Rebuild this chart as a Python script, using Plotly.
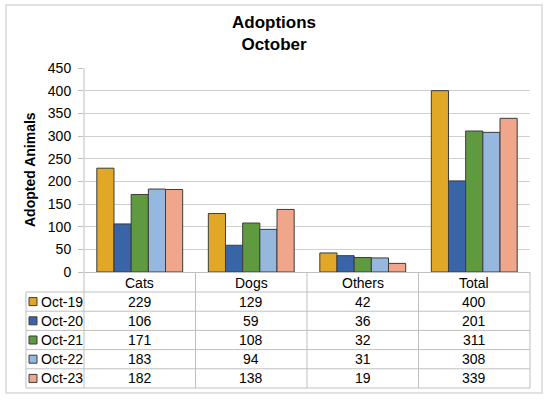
import plotly.graph_objects as go

categories = ["Cats", "Dogs", "Others", "Total"]
series = ["Oct-19", "Oct-20", "Oct-21", "Oct-22", "Oct-23"]
oct19 = [229, 129, 42, 400]
oct20 = [106, 59, 36, 201]
oct21 = [171, 108, 32, 311]
oct22 = [183, 94, 31, 308]
oct23 = [182, 138, 19, 339]
y_ticks = [0, 50, 100, 150, 200, 250, 300, 350, 400, 450]

values = [oct19, oct20, oct21, oct22, oct23]
colors = ["#E0A826", "#3A64A8", "#5F9A41", "#96B8DE", "#F0A68B"]

W, H = 549, 400
FONT = "Liberation Sans, Arial, sans-serif"
GRID = "#D0D0D0"
LINE = "#BFBFBF"
FS = 14


# pixel -> paper helpers
def px(x):
    return x / W


def py(y):
    return 1 - y / H


plot_l, plot_r, plot_t, plot_b = 84, 530, 68, 272
tab_left, tab_top, tab_bottom = 26, 292, 388
row_h = (tab_bottom - tab_top) / len(series)
cat_w = (plot_r - plot_l) / len(categories)

fig = go.Figure()
for name, vals, col in zip(series, values, colors):
    fig.add_trace(go.Bar(
        x=categories, y=vals, name=name,
        marker=dict(color=col, line=dict(color="#3C3C3C", width=1)),
    ))

shapes = []
annotations = []


def label(x, y, text, xref="paper", **kw):
    d = dict(x=x, y=y, xref=xref, yref="paper", text=text, showarrow=False,
             xanchor="center", yanchor="middle",
             font=dict(family=FONT, size=FS, color="#000"))
    d.update(kw)
    annotations.append(d)


def hline(x0, x1, y):
    shapes.append(dict(type="line", xref="paper", yref="paper",
                       x0=px(x0), x1=px(x1), y0=py(y), y1=py(y),
                       line=dict(color=LINE, width=1)))


def vline(x, y0, y1):
    shapes.append(dict(type="line", xref="paper", yref="paper",
                       x0=px(x), x1=px(x), y0=py(y0), y1=py(y1),
                       line=dict(color=LINE, width=1)))


# outer chart border
shapes.append(dict(type="rect", xref="paper", yref="paper",
                   x0=px(6), x1=px(542), y0=py(393), y1=py(5),
                   line=dict(color="#D9D9D9", width=1.5), layer="below"))

# left axis line down through the table, category separators
vline(plot_l, plot_t, tab_bottom)
for i in range(1, len(categories) + 1):
    vline(plot_l + i * cat_w, plot_b, tab_bottom)
vline(tab_left, tab_top, tab_bottom)
for r in range(len(series) + 1):
    hline(tab_left, plot_r, tab_top + r * row_h)

# category header
for cat in categories:
    label(cat, py((plot_b + tab_top) / 2 + 1), cat, xref="x")

# table rows
for r, (name, vals, col) in enumerate(zip(series, values, colors)):
    yc = tab_top + (r + 0.5) * row_h
    shapes.append(dict(type="rect", xref="paper", yref="paper",
                       x0=px(29), x1=px(37), y0=py(yc + 4), y1=py(yc - 4),
                       fillcolor=col, line=dict(color="#3C3C3C", width=1)))
    label(px(39), py(yc), name, xanchor="left")
    for c, v in enumerate(vals):
        label(categories[c], py(yc), str(v), xref="x")

# title
label(px(274), py(34), "<b>Adoptions<br>October</b>",
      font=dict(family=FONT, size=17, color="#000"))
# y axis title
label(px(30), py((plot_t + plot_b) / 2), "<b>Adopted Animals</b>", textangle=-90)

fig.update_layout(
    template="none",
    width=W, height=H,
    margin=dict(l=0, r=0, t=0, b=0, pad=0),
    paper_bgcolor="white", plot_bgcolor="white",
    barmode="group", bargap=0.23, bargroupgap=0,
    showlegend=False,
    shapes=shapes, annotations=annotations,
    xaxis=dict(domain=[px(plot_l), px(plot_r)], range=[-0.5, 3.5], automargin=False,
               showticklabels=False, ticks="", showgrid=False,
               showline=True, linecolor=LINE, linewidth=1, zeroline=False),
    yaxis=dict(domain=[py(plot_b), py(plot_t)], range=[0, 450], automargin=False,
               tickvals=y_ticks, ticks="outside", ticklen=5, tickcolor=LINE,
               ticklabelstandoff=4,
               tickfont=dict(family=FONT, size=FS, color="#000"),
               showgrid=True, gridcolor=GRID, gridwidth=1,
               showline=False, zeroline=False),
)

fig.write_html("out.html", config={"displayModeBar": False},
               post_script="document.body.style.margin='0';")
